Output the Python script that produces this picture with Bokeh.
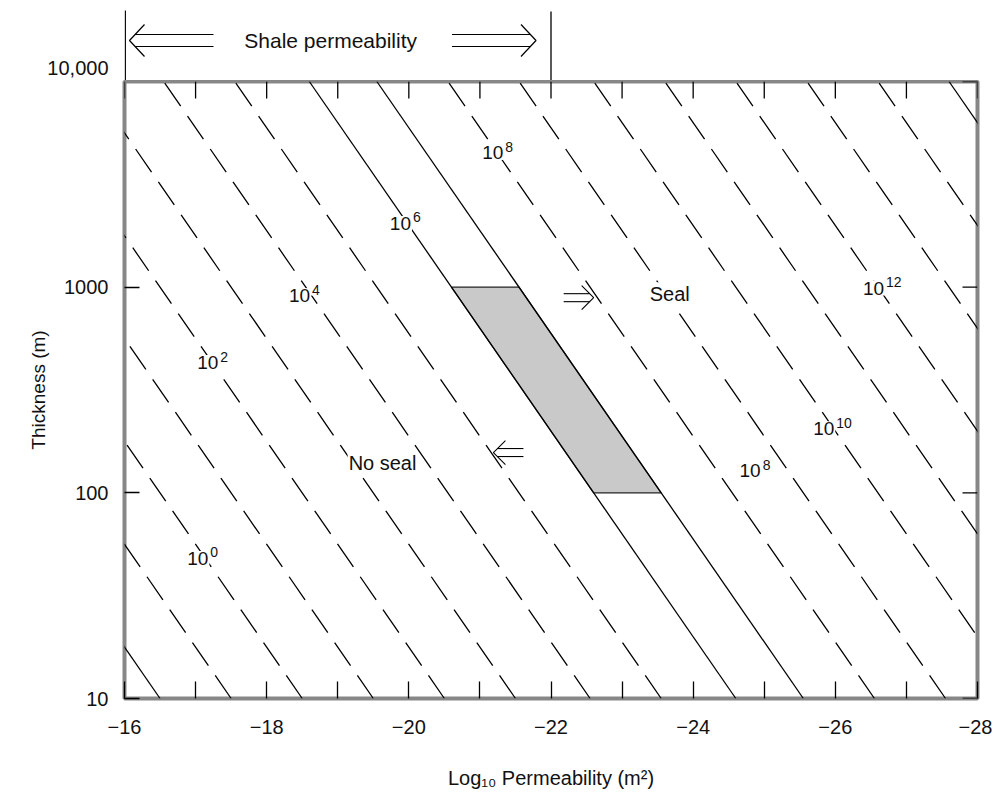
import math
from bokeh.plotting import figure
from bokeh.models import Range1d, FixedTicker, CustomJSTickFormatter
from bokeh.layouts import column
from bokeh.embed import file_html
from bokeh.resources import INLINE
from bokeh.core.properties import value

# ---------------- data ----------------
x_ticks = [-16, -18, -20, -22, -24, -26, -28]
x_tick_labels = ["\u221216", "\u221218", "\u221220", "\u221222", "\u221224", "\u221226", "\u221228"]
x_minor_ticks = [-17, -19, -21, -23, -25, -27]
y_ticks = [10, 100, 1000, 10000]
y_tick_labels = ["10", "100", "1000", "10,000"]

# contour lines: log10(k) = intercept + slope * log10(h)
contour_slope = 2.0
contour_exponent = [-2, -1, 0, 1, 2, 3, 4, 5, 6, 7, 8, 9, 10, 11, 12, 13, 14, 15]
contour_intercept = [-18.5, -19.5, -20.5, -21.5, -22.5, -23.5, -24.55, -25.55, -26.6,
                     -27.55, -28.55, -29.55, -30.6, -31.6, -32.6, -33.6, -34.6, -35.6]
contour_solid = [True, False, False, False, False, False, False, False, True,
                 True, False, False, False, False, False, False, False, True]
thickness_limits = [10, 10000]

# shaded band between the 10^6 and 10^7 contours, thickness 100 - 1000 m
band_lines = [6, 7]
band_thickness = [100, 1000]

# contour labels
label_exp = ["0", "2", "4", "6", "8", "8", "10", "12"]
label_x = [-17.10, -17.24, -18.53, -19.95, -21.25, -24.87, -25.96, -26.66]
label_h = [48, 430, 910, 2040, 4510, 128, 205, 990]

# region labels and arrows
region_text = ["No seal", "Seal"]
region_x = [-19.63, -23.67]
region_h = [140, 925]
arrow_tip_x = [-21.19, -22.60]
arrow_tip_h = [157, 889]
arrow_dir = [-1, 1]  # -1 points left on screen, +1 points right

shale_range = [-16, -22]
shale_text = "Shale permeability"

# ---------------- layout constants ----------------
FONT = "Liberation Sans"
frame_w, frame_h = 853, 617
left_b, right_b = 124, 15
top_h = 80
ppu = frame_w / abs(x_ticks[-1] - x_ticks[0])        # px per permeability unit
ppd = frame_h / math.log10(y_ticks[-1] / y_ticks[0])  # px per decade
y_label_standoff = 16


def arrow_paths(direction, length, sep, head_len, head_half):
    """Double arrow in screen px relative to its tip (x right, y up)."""
    d = direction
    join = head_len * (sep / 2) / head_half
    paths = []
    for s in (sep / 2, -sep / 2):
        paths.append(([-d * length, -d * join], [s, s]))
    paths.append(([-d * head_len, 0, -d * head_len], [head_half, 0, -head_half]))
    return paths


def style_axis(ax, tick_len):
    ax.axis_line_color = None
    ax.major_tick_in = tick_len
    ax.major_tick_out = 0
    ax.minor_tick_in = tick_len
    ax.minor_tick_out = 0
    ax.major_tick_line_color = "black"
    ax.minor_tick_line_color = "black"
    ax.major_tick_line_width = 1.3
    ax.minor_tick_line_width = 1.3
    ax.major_label_text_font = FONT
    ax.major_label_text_font_size = "20px"
    ax.major_label_text_color = "#111111"
    ax.axis_label_text_font = FONT
    ax.axis_label_text_font_style = "normal"
    ax.axis_label_text_color = "#111111"


x_range = Range1d(x_ticks[0], x_ticks[-1])

# ---------------- top annotation figure ----------------
top = figure(frame_width=frame_w, frame_height=top_h,
             x_range=x_range, y_range=Range1d(0, top_h),
             min_border_left=left_b, min_border_right=right_b,
             min_border_top=0, min_border_bottom=0,
             x_axis_location=None, y_axis_location="left",
             output_backend="svg", toolbar_location=None)
top.grid.visible = False
top.outline_line_color = None

# the "10,000" label of the thickness axis sits just above the frame line:
# it is carried by this strip's own left axis
ta = top.yaxis[0]
ta.ticker = FixedTicker(ticks=[top_h - 67])
ta.formatter = CustomJSTickFormatter(args=dict(l=y_tick_labels[-1]), code="return l;")
style_axis(ta, 0)
ta.major_tick_line_color = None
ta.major_label_standoff = y_label_standoff

bar_x = [shale_range[0] - 0.8 / ppu, shale_range[1]]
top.segment(x0=bar_x, y0=[0, 0], x1=bar_x, y1=[top_h - 10, top_h - 11],
            line_color="black", line_width=1.3)
mid_y = top_h - 40
top.text(x=[sum(shale_range) / 2 + 0.1], y=[mid_y], text=[shale_text],
         text_font=value(FONT), text_font_size="21px", text_color="#111111",
         text_align="center", text_baseline="middle")
for tip_x, d in ((shale_range[0] - 5 / ppu, -1), (shale_range[1] + 15 / ppu, 1)):
    for xs, ys in arrow_paths(d, 84, 12, 15, 16):
        top.line([tip_x - v / ppu for v in xs], [mid_y + v for v in ys],
                 line_color="black", line_width=1.2)

# ---------------- main figure ----------------
p = figure(frame_width=frame_w, frame_height=frame_h,
           x_range=x_range,
           y_range=Range1d(y_ticks[0], y_ticks[-1]), y_axis_type="log",
           min_border_left=left_b, min_border_right=right_b,
           min_border_top=1, min_border_bottom=20,
           output_backend="svg", toolbar_location=None)
p.grid.visible = False
p.outline_line_color = "#878787"
p.outline_line_width = 4
p.background_fill_color = "white"

# shaded band
c_lo = contour_intercept[contour_exponent.index(band_lines[0])]
c_hi = contour_intercept[contour_exponent.index(band_lines[1])]
bx = [c_lo + contour_slope * math.log10(band_thickness[1]),
      c_hi + contour_slope * math.log10(band_thickness[1]),
      c_hi + contour_slope * math.log10(band_thickness[0]),
      c_lo + contour_slope * math.log10(band_thickness[0])]
by = [band_thickness[1], band_thickness[1], band_thickness[0], band_thickness[0]]
p.patch(bx, by, fill_color="#c9c9c9", line_color="#222222", line_width=1.1)

# contour lines
for c, solid in zip(contour_intercept, contour_solid):
    xs = [c + contour_slope * math.log10(h) for h in thickness_limits]
    if solid:
        p.line(xs, thickness_limits, line_color="black", line_width=1.3)
    else:
        p.line(xs, thickness_limits, line_color="black", line_width=1.3, line_dash="28 12")

# contour labels: "10" + superscript exponent
base_fs, exp_fs = 19, 14
for e, lx, lh in zip(label_exp, label_x, label_h):
    base_w = 2 * 0.556 * base_fs
    exp_w = len(e) * 0.556 * exp_fs
    off = base_w - (base_w + exp_w) / 2
    p.text(x=[lx], y=[lh], text=["10"], x_offset=off, text_align="right",
           text_baseline="middle", text_font=value(FONT), text_font_size=f"{base_fs}px",
           text_color="#111111", background_fill_color="white", padding=1)
    p.text(x=[lx], y=[lh], text=[e], x_offset=off, y_offset=-6, text_align="left",
           text_baseline="middle", text_font=value(FONT), text_font_size=f"{exp_fs}px",
           text_color="#111111", background_fill_color="white", padding=1)

p.text(x=region_x, y=region_h, text=region_text, text_align="center",
       text_baseline="middle", text_font=value(FONT), text_font_size="20px",
       text_color="#111111", background_fill_color="white", padding=1)

for tx, th, d in zip(arrow_tip_x, arrow_tip_h, arrow_dir):
    for xs, ys in arrow_paths(d, 30, 8, 12, 12):
        p.line([tx - v / ppu for v in xs],
               [10 ** (math.log10(th) + v / ppd) for v in ys],
               line_color="black", line_width=1.1)

# inward ticks on the top and right edges of the frame
all_x_ticks = x_ticks + x_minor_ticks
p.segment(x0=all_x_ticks, y0=[y_ticks[-1]] * len(all_x_ticks),
          x1=all_x_ticks, y1=[10 ** (math.log10(y_ticks[-1]) - 17 / ppd)] * len(all_x_ticks),
          line_color="black", line_width=1.3)
p.segment(x0=[x_ticks[-1]] * len(y_ticks), y0=y_ticks,
          x1=[x_ticks[-1] + 15 / ppu] * len(y_ticks), y1=y_ticks,
          line_color="black", line_width=1.3)

# axes
x_fmt = CustomJSTickFormatter(args=dict(v=x_ticks, l=x_tick_labels), code="""
for (let i = 0; i < v.length; i++) { if (Math.abs(v[i] - tick) < 1e-9) return l[i]; }
return '';""")
y_fmt = CustomJSTickFormatter(args=dict(v=y_ticks, l=y_tick_labels), code="""
for (let i = 0; i < v.length; i++) { if (Math.abs(v[i] - tick) < 1e-6 * v[i]) return l[i]; }
return '';""")

xa = p.xaxis[0]
xa.ticker = FixedTicker(ticks=x_ticks, minor_ticks=x_minor_ticks)
xa.formatter = x_fmt
style_axis(xa, 17)
xa.major_label_standoff = 21
xa.axis_label = "Log\u2081\u2080 Permeability (m\u00b2)"
xa.axis_label_text_font_size = "20px"
xa.axis_label_standoff = 30

ya = p.yaxis[0]
ya.ticker = FixedTicker(ticks=y_ticks[:-1])
ya.formatter = y_fmt
style_axis(ya, 15)
ya.major_label_standoff = y_label_standoff
ya.axis_label = "Thickness (m)"
ya.axis_label_text_font_size = "19px"
ya.axis_label_standoff = 12

layout = column(top, p)
open("out.html", "w").write(file_html(layout, INLINE))
